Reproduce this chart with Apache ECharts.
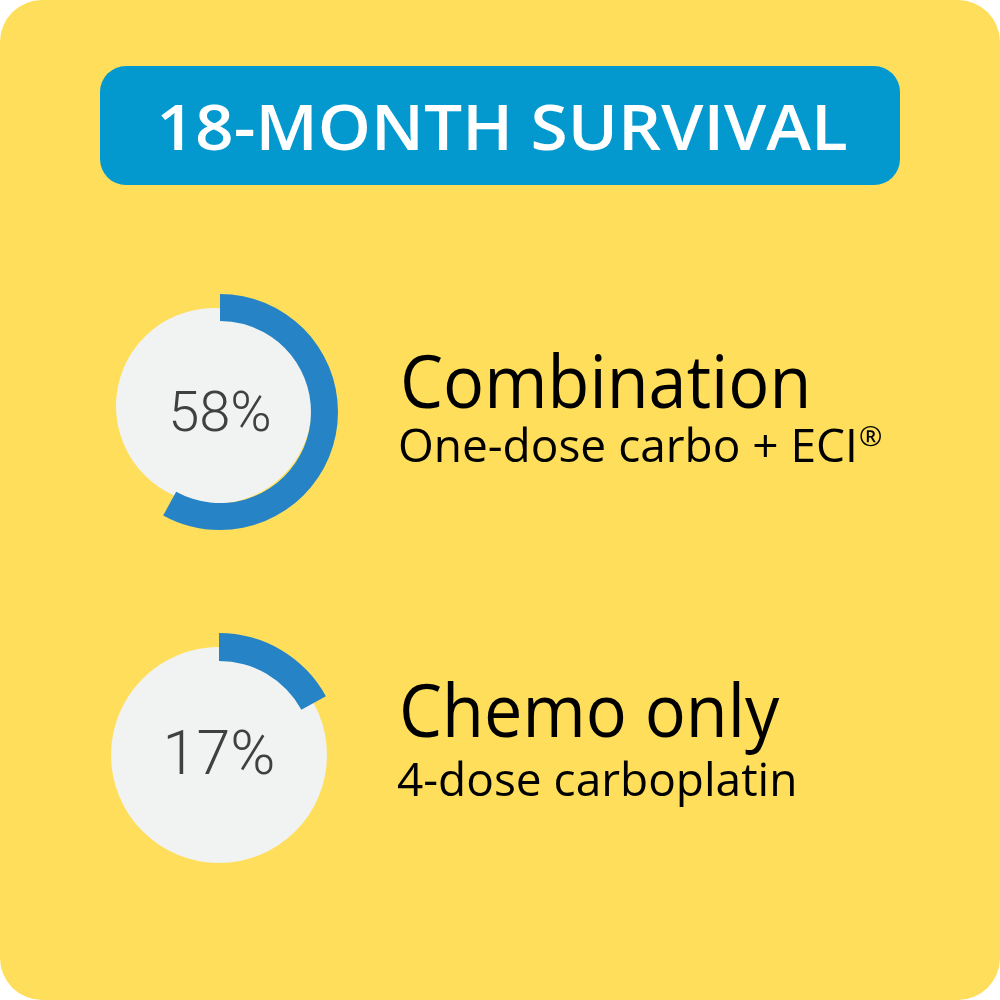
<!DOCTYPE html>
<html><head><meta charset="utf-8">
<script src="https://cdn.jsdelivr.net/npm/echarts@6/dist/echarts.min.js"></script>
<style>html,body{margin:0;padding:0;background:#fff}#c{width:1000px;height:1000px}</style>
</head><body><div id="c"></div>
<script>
const heading = '18-MONTH SURVIVAL';
const groups = ['Combination', 'Chemo only'];
const subtitles = ['One-dose carbo + ECI', '4-dose carboplatin'];
const subtitleMarks = ['®', ''];
const values = [58, 17];

const chart = echarts.init(document.getElementById('c'), null, {renderer: 'canvas'});
const layout = [
  {arc: [220, 412], arcR: 118, arcW: 27, disc: [214, 406], discR: 98, fs: 56, dy: 5, tx: 400, ty1: 351, ty2: 424},
  {arc: [219, 755], arcR: 122, arcW: 28, disc: [219, 755], discR: 108, fs: 61, dy: 4, tx: 399, ty1: 680, ty2: 760}
];
const series = [];
const graphics = [
  {type: 'rect', shape: {x: 0, y: 0, width: 1000, height: 1000, r: 42}, style: {fill: '#FEDE5A'}, z: -10},
  {type: 'rect', shape: {x: 100, y: 66, width: 800, height: 119, r: 26}, style: {fill: '#0399CF'}, z: -9},
  {type: 'text', x: 502, y: 132, scaleX: 1.057, style: {text: heading, fill: '#fff', font: '600 64px "Open Sans"', align: 'center', verticalAlign: 'middle'}}
];
values.forEach((v, i) => {
  const L = layout[i];
  series.push({
    type: 'pie', center: L.disc, radius: [0, L.discR], silent: true, label: {show: false},
    itemStyle: {color: '#F1F3F3'}, data: [{value: 1}], z: 1
  });
  series.push({
    type: 'gauge', center: L.arc, radius: L.arcR, startAngle: 90, endAngle: -270, min: 0, max: 100,
    pointer: {show: false}, axisLine: {show: false}, axisTick: {show: false}, splitLine: {show: false}, axisLabel: {show: false},
    progress: {show: true, width: L.arcW, roundCap: false, itemStyle: {color: '#2684C6'}},
    anchor: {show: false}, title: {show: false},
    detail: {show: true, offsetCenter: [0, L.dy], formatter: '{value}%', color: '#404040', fontFamily: 'Roboto', fontWeight: 300, fontSize: L.fs},
    data: [{value: v}], z: 2
  });
  graphics.push({type: 'text', x: L.tx, y: L.ty1, scaleX: 0.937, style: {text: groups[i], fill: '#000', font: '400 73px "Open Sans"', verticalAlign: 'top'}});
  graphics.push({type: 'text', x: L.tx - 2, y: L.ty2, style: {
    text: subtitles[i] + (subtitleMarks[i] ? '{sup|' + subtitleMarks[i] + '}' : ''),
    rich: {sup: {fontSize: 28, verticalAlign: 'top', padding: [0, 0, 22, 1], fontFamily: 'Open Sans', fill: '#000'}},
    fill: '#000', font: '400 46px "Open Sans"', verticalAlign: 'top'}});
});
chart.setOption({animation: false, series: series, graphic: graphics});
</script></body></html>
